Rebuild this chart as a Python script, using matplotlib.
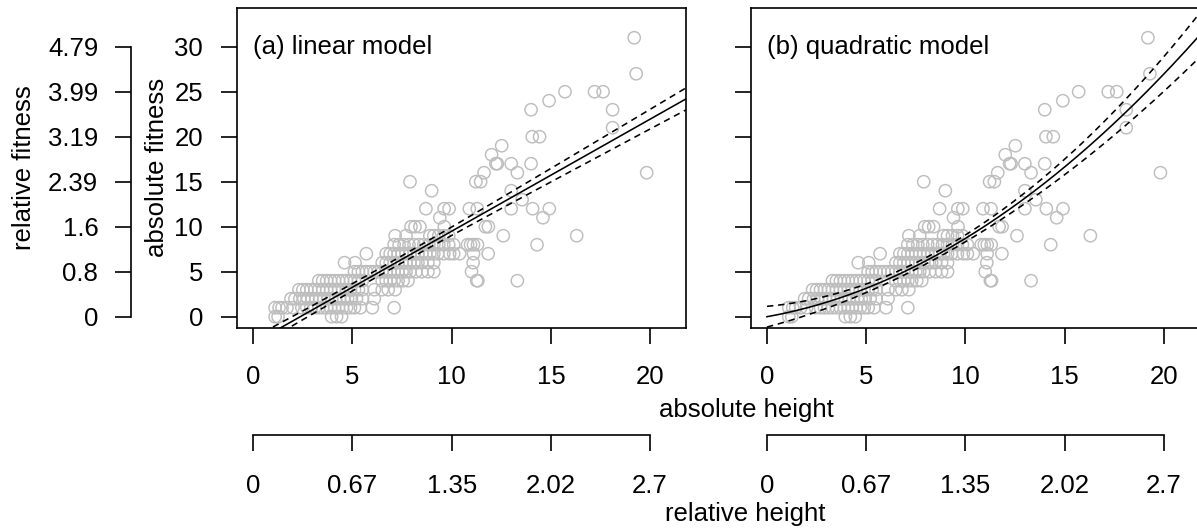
import matplotlib
matplotlib.use("Agg")
import matplotlib.pyplot as plt
import numpy as np

# ---------------- data ----------------
# absolute height of plants, grouped by their (integer) absolute fitness
fit_levels = [0, 1, 2, 3, 4, 5, 6, 7, 8, 9, 10, 11, 12, 13, 14, 15, 16, 17,
              18, 19, 20, 21, 23, 24, 25, 27, 31]
h_f0 = [1.1, 1.25, 3.95, 4.2, 4.45]
h_f1 = [1.1, 1.3, 1.45, 1.7, 2.0, 2.45, 2.7, 2.9, 3.1, 3.3, 3.5, 3.7, 3.9, 4.1,
        4.3, 4.5, 4.7, 4.9, 5.1, 5.4, 6.0, 7.1]
h_f2 = [1.9, 2.1, 2.35, 2.55, 2.75, 2.95, 3.15, 3.35, 3.55, 3.75, 3.95, 4.15,
        4.35, 4.55, 4.75, 4.95, 5.2, 5.5, 6.1]
h_f3 = [2.3, 2.5, 2.7, 2.9, 3.1, 3.3, 3.5, 3.7, 3.9, 4.1, 4.3, 4.5, 4.7, 4.9,
        5.1, 5.3, 5.5, 6.1, 6.5, 6.8, 7.15]
h_f4 = [3.3, 3.5, 3.7, 3.9, 4.1, 4.3, 4.5, 4.7, 4.9, 5.1, 5.3, 5.5, 6.5, 6.7,
        6.9, 7.1, 7.3, 7.55, 7.8, 11.26, 11.32, 13.31]
h_f5 = [5.1, 5.3, 5.5, 5.7, 5.9, 6.1, 6.3, 6.5, 6.7, 6.9, 7.1, 7.3, 7.5, 7.7,
        7.9, 8.2, 8.5, 8.8, 9.1, 11.0]
h_f6 = [4.6, 5.13, 6.5, 6.7, 6.9, 7.1, 7.3, 7.5, 7.7, 7.9, 8.1, 8.3, 8.5, 8.8,
        9.1, 11.08]
h_f7 = [5.7, 6.7, 6.9, 7.1, 7.3, 7.5, 7.7, 7.9, 8.1, 8.3, 8.5, 8.7, 8.9, 9.1,
        9.3, 9.6, 9.9, 10.1, 10.4, 11.1, 11.84]
h_f8 = [7.1, 7.35, 7.6, 7.85, 8.1, 8.35, 8.6, 8.85, 9.1, 9.35, 9.6, 9.85, 10.1,
        10.8, 10.95, 11.1, 11.3, 14.3]
h_f9 = [7.15, 7.7, 8.9, 9.1, 9.35, 9.6, 9.85, 12.6, 16.3]
h_f10 = [7.95, 8.15, 8.4, 9.63, 11.7, 11.85]
h_f11 = [9.4, 14.6]
h_f12 = [8.7, 9.62, 9.87, 10.89, 11.29, 13.0, 14.08, 14.92]
h_f13 = [13.55]
h_f14 = [8.99, 13.0]
h_f15 = [7.9, 11.22, 11.46]
h_f16 = [11.63, 13.31, 19.83]
h_f17 = [12.23, 12.3, 13.0, 14.0]
h_f18 = [12.01]
h_f19 = [12.52]
h_f20 = [14.06, 14.43]
h_f21 = [18.11]
h_f23 = [14.0, 18.11]
h_f24 = [14.91]
h_f25 = [15.71, 17.2, 17.63]
h_f27 = [19.3]
h_f31 = [19.2]
height_rows = [h_f0, h_f1, h_f2, h_f3, h_f4, h_f5, h_f6, h_f7, h_f8, h_f9,
               h_f10, h_f11, h_f12, h_f13, h_f14, h_f15, h_f16, h_f17, h_f18,
               h_f19, h_f20, h_f21, h_f23, h_f24, h_f25, h_f27, h_f31]

# fitted models (coefficients)
lin_coef = [-2.95, 1.245]            # intercept, slope
lin_ci_var = [0.148, 0.00573, 6.5]   # half-width^2 = a + b*(x - xm)^2
quad_coef = [0.0, 0.392, 0.0478]     # intercept, linear, quadratic
quad_ci_hw = [1.15, -0.1925, 0.01156]  # half-width polynomial in x

# axis tick labels
x_ticks = [0, 5, 10, 15, 20]
y_ticks = [0, 5, 10, 15, 20, 25, 30]
rel_fitness_labels = ["0", "0.8", "1.6", "2.39", "3.19", "3.99", "4.79"]
rel_height_labels = ["0", "0.67", "1.35", "2.02", "2.7"]
panel_titles = ["(a) linear model", "(b) quadratic model"]

# ---------------- build arrays ----------------
abs_height = np.concatenate([np.array(r, float) for r in height_rows])
abs_fitness = np.concatenate([np.full(len(r), lv, float)
                              for r, lv in zip(height_rows, fit_levels)])

# ---------------- figure ----------------
plt.rcParams['font.family'] = ['Liberation Sans', 'DejaVu Sans']
W, H, DPI = 1197, 532, 100
FS = 18.5
fig = plt.figure(figsize=(W / DPI, H / DPI), dpi=DPI)

box_top, box_bot = 7.5, 328.0
box_w = 449.0
lefts = [237.0, 750.7]
xlim = (-0.82, 21.81)
ylim = (-1.256, 34.36)
GREY = '#BEBEBE'
LW = 1.2

xs = np.linspace(0, 23, 400)
lin_fit = lin_coef[0] + lin_coef[1] * xs
lin_hw = np.sqrt(lin_ci_var[0] + lin_ci_var[1] * (xs - lin_ci_var[2]) ** 2)
quad_fit = quad_coef[0] + quad_coef[1] * xs + quad_coef[2] * xs ** 2
quad_hw = quad_ci_hw[0] + quad_ci_hw[1] * xs + quad_ci_hw[2] * xs ** 2
fits = [(lin_fit, lin_hw), (quad_fit, quad_hw)]

axes = []
for i, left in enumerate(lefts):
    ax = fig.add_axes([left / W, 1 - box_bot / H, box_w / W, (box_bot - box_top) / H])
    axes.append(ax)
    ax.scatter(abs_height, abs_fitness, s=78, facecolors='none',
               edgecolors=GREY, linewidths=1.05, zorder=2)
    fit, hw = fits[i]
    ax.plot(xs, fit, color='k', lw=1.15, zorder=3)
    ax.plot(xs, fit + hw, color='k', lw=1.15, ls=(0, (4, 3)), zorder=3)
    ax.plot(xs, fit - hw, color='k', lw=1.15, ls=(0, (4, 3)), zorder=3)
    ax.set_xlim(*xlim)
    ax.set_ylim(*ylim)
    ax.set_xticks(x_ticks)
    ax.set_yticks(y_ticks)
    for sp in ax.spines.values():
        sp.set_linewidth(LW)
    ax.tick_params(axis='both', direction='out', length=11.5, width=LW,
                   labelsize=FS, colors='k')
    ax.tick_params(axis='x', pad=15)
    ax.tick_params(axis='y', pad=13)
    if i == 1:
        ax.tick_params(axis='y', labelleft=False)
    ax.text(0, 30, panel_titles[i], ha='left', va='center', fontsize=FS)

    # relative height axis below
    sec = ax.secondary_xaxis((box_bot - 435.0) / (box_bot - box_top))
    sec.set_xticks(x_ticks)
    sec.set_xticklabels(rel_height_labels)
    sec.spines['bottom'].set_bounds(0, 20)
    sec.spines['bottom'].set_linewidth(LW)
    sec.tick_params(axis='x', direction='out', length=11.5, width=LW,
                    labelsize=FS, pad=16.5)

# relative fitness axis on the left of panel a
axa = axes[0]
secy = axa.secondary_yaxis((131.0 - lefts[0]) / box_w)
secy.set_yticks(y_ticks)
secy.set_yticklabels(rel_fitness_labels)
secy.spines['left'].set_bounds(0, 30)
secy.spines['left'].set_linewidth(LW)
secy.tick_params(axis='y', direction='out', length=11.5, width=LW,
                 labelsize=FS, pad=12)

def fy(py):
    return 1 - py / H

mid_y = fy((box_top + box_bot) / 2)
fig.text(24 / W, mid_y, 'relative fitness', rotation=90, ha='center',
         va='center', fontsize=FS)
fig.text(157.5 / W, mid_y, 'absolute fitness', rotation=90, ha='center',
         va='center', fontsize=FS)
fig.text(746 / W, fy(410), 'absolute height', ha='center', va='center', fontsize=FS)
fig.text(745 / W, fy(514), 'relative height', ha='center', va='center', fontsize=FS)

fig.savefig('out.png', dpi=DPI)
